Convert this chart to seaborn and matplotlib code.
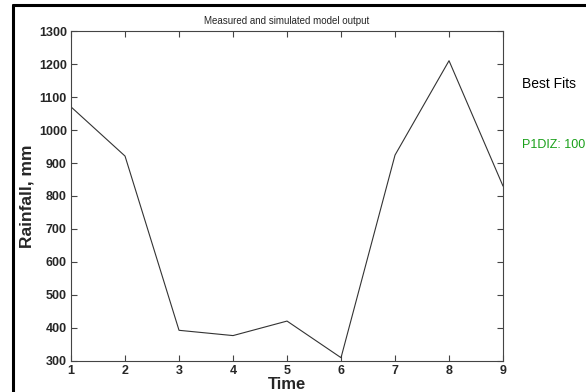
import matplotlib
matplotlib.use("Agg")
import matplotlib.pyplot as plt
import seaborn as sns
import pandas as pd
from matplotlib.lines import Line2D

# Model output series
time = [1, 2, 3, 4, 5, 6, 7, 8, 9]
rainfall = [1070, 921, 393, 377, 421, 310, 924, 1210, 830]
x_ticks = [1, 2, 3, 4, 5, 6, 7, 8, 9]
y_ticks = [300, 400, 500, 600, 700, 800, 900, 1000, 1100, 1200, 1300]

sns.set_theme(style="ticks")
plt.rcParams["font.family"] = ["Liberation Sans", "DejaVu Sans"]
plt.rcParams["xtick.direction"] = "in"
plt.rcParams["ytick.direction"] = "in"

df = pd.DataFrame({"Time": time, "Rainfall": rainfall})

fig = plt.figure(figsize=(5.86, 3.92), dpi=100)
ax = fig.add_axes([0.1212, 0.0791, 0.7372, 0.8418])

sns.lineplot(data=df, x="Time", y="Rainfall", ax=ax, color="#333333", linewidth=0.8)

ax.set_xlim(1, 9)
ax.set_ylim(300, 1300)
ax.set_xticks(x_ticks)
ax.set_yticks(y_ticks)
ax.tick_params(axis="both", which="both", top=True, right=True, length=4,
               width=0.8, color="#444444", labelsize=9, pad=3)
for lbl in ax.get_xticklabels() + ax.get_yticklabels():
    lbl.set_fontweight("bold")
for s in ax.spines.values():
    s.set_color("#444444")
    s.set_linewidth(0.8)

ax.set_xlabel("Time", fontsize=12, fontweight="bold", labelpad=0)
ax.set_ylabel("Rainfall, mm", fontsize=12.5, fontweight="bold", labelpad=3)
ax.set_title("Measured and simulated model output", fontsize=7, pad=5)

# Legend-like annotations to the right of the plot
fig.text(0.891, 0.785, "Best Fits", fontsize=10, color="black",
         va="center", ha="left")
fig.text(0.891, 0.63, "P1DIZ: 100", fontsize=9, color="#1aa01a",
         va="center", ha="left")

# Frame lines along the left and top of the figure
fig.add_artist(Line2D([0.023, 0.023], [0.0, 0.987], transform=fig.transFigure,
                      color="black", linewidth=2.2))
fig.add_artist(Line2D([0.022, 1.0], [0.987, 0.987], transform=fig.transFigure,
                      color="black", linewidth=2.2))

fig.savefig("out.png", dpi=100)
